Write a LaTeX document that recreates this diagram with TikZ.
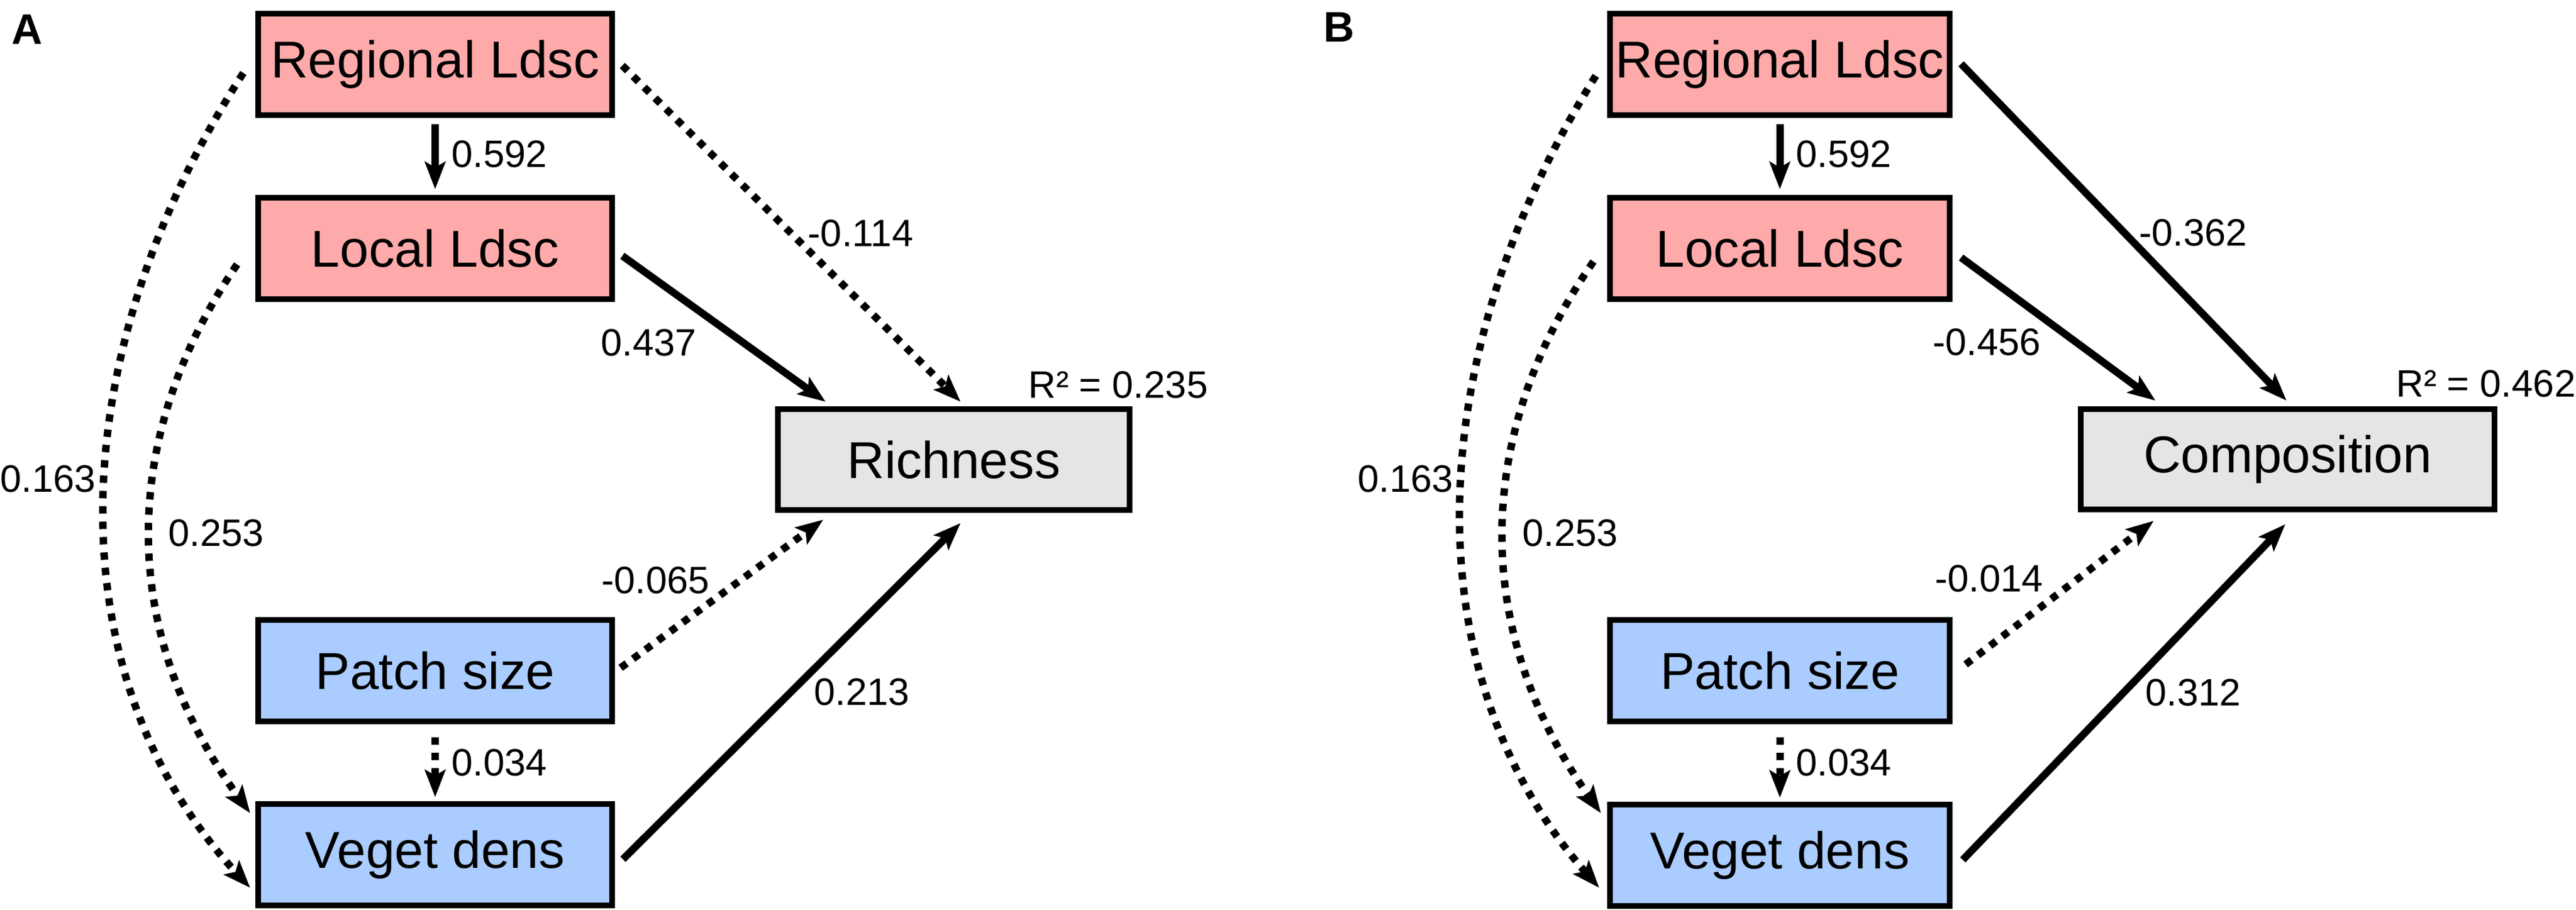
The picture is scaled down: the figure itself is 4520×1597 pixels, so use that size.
\documentclass[tikz,border=0pt]{standalone}
\usepackage{fontspec}
\setmainfont{Liberation Sans}
\usetikzlibrary{arrows.meta,calc,positioning}
\definecolor{ldscred}{HTML}{FFAAAA}
\definecolor{vegblue}{HTML}{AACCFF}
\definecolor{respgray}{HTML}{E5E5E5}

\begin{document}
\begin{tikzpicture}[x=0.2pt,y=-0.2pt,
    box/.style={draw=black,line width=2pt,inner sep=0pt,minimum height=35.6pt,
      font=\fontsize{18.2}{20}\selectfont},
    wbox/.style={box,minimum width=124.2pt},
    nbox/.style={box,minimum width=119.2pt},
    lbl/.style={inner sep=0pt,font=\fontsize{13.4}{15}\selectfont},
    panel/.style={inner sep=0pt,font=\fontsize{15}{17}\selectfont\bfseries},
    eff/.style={line width=2.6pt,-{Stealth[length=9.6pt,width=7.2pt,inset=2pt]}},
    ns/.style={eff,dash pattern=on 2.6pt off 2.8pt}]
    \useasboundingbox (0,0) rectangle (4520,1597);

    % panel A : richness
    \node[panel] (pA) at (48,52) {A};
    \node[wbox,fill=ldscred] (regA) at (763.5,113) {Regional Ldsc};
    \node[wbox,fill=ldscred] (locA) at (763.5,436) {Local Ldsc};
    \node[wbox,fill=vegblue] (patA) at (763.5,1177) {Patch size};
    \node[wbox,fill=vegblue] (vegA) at (763.5,1500) {Veget dens};
    \node[box,fill=respgray,minimum width=123.4pt,minimum height=35.4pt] (rich) at (1673.5,806.5) {Richness};

    \draw[eff] ($(regA.south)+(0,11)$) -- ($(locA.north)+(0,-10)$);
    \draw[ns] ($(patA.south)+(0,23)$) -- ($(vegA.north)+(0,-7)$);
    \draw[ns] ($(regA.east)+(13,2)$) -- ($(rich.north)+(12,-8)$);
    \draw[eff] ($(locA.east)+(13,13)$) -- ($(rich.north)+(-225,-8)$);
    \draw[ns] ($(patA.east)+(10,-5)$) -- ($(rich.south)+(-229,12)$);
    \draw[eff] ($(vegA.east)+(14,8)$) -- ($(rich.south)+(12,18)$);
    \draw[ns] ($(regA.west)+(-21,15)$) .. controls +(-327,507) and +(-339,-366) .. ($(vegA.west)+(-9,58)$);
    \draw[ns] ($(locA.west)+(-32,28)$) .. controls +(-208,305) and +(-231,-317) .. ($(vegA.west)+(-9,-73)$);

    \node[lbl] (a1) at (876,270) {0.592};
    \node[lbl] (a2) at (1510,409) {-0.114};
    \node[lbl] (a3) at (1138,601) {0.437};
    \node[lbl] (a4) at (1962,675) {R² = 0.235};
    \node[lbl] (a5) at (84,840) {0.163};
    \node[lbl] (a6) at (379,935) {0.253};
    \node[lbl] (a7) at (1150,1018) {-0.065};
    \node[lbl] (a8) at (1512,1214) {0.213};
    \node[lbl] (a9) at (876,1338) {0.034};

    % panel B : composition
    \node[panel] (pB) at (2350,48) {B};
    \node[nbox,fill=ldscred] (regB) at (3123,113) {Regional Ldsc};
    \node[nbox,fill=ldscred] (locB) at (3123,436) {Local Ldsc};
    \node[nbox,fill=vegblue] (patB) at (3123,1177) {Patch size};
    \node[nbox,fill=vegblue] (vegB) at (3123,1501) {Veget dens};
    \node[box,fill=respgray,minimum width=145.2pt,minimum height=35.2pt] (comp) at (4014,806) {Composition};

    \draw[eff] ($(regB.south)+(0,11)$) -- ($(locB.north)+(0,-10)$);
    \draw[ns] ($(patB.south)+(0,23)$) -- ($(vegB.north)+(0,-7)$);
    \draw[eff] ($(regB.east)+(15,-1)$) -- ($(comp.north)+(-2,-10)$);
    \draw[eff] ($(locB.east)+(15,16)$) -- ($(comp.north)+(-232,-10)$);
    \draw[ns] ($(patB.east)+(23,-11)$) -- ($(comp.south)+(-235,15)$);
    \draw[eff] ($(vegB.east)+(18,8)$) -- ($(comp.south)+(-4,21)$);
    \draw[ns] ($(regB.west)+(-20,20)$) .. controls +(-316,507) and +(-322,-366) .. ($(vegB.west)+(-14,57)$);
    \draw[ns] ($(locB.west)+(-24,23)$) .. controls +(-213,305) and +(-226,-317) .. ($(vegB.west)+(-11,-74)$);

    \node[lbl] (b1) at (3235,270) {0.592};
    \node[lbl] (b2) at (3848,408) {-0.362};
    \node[lbl] (b3) at (3486,600) {-0.456};
    \node[lbl] (b4) at (4362,673) {R² = 0.462};
    \node[lbl] (b5) at (2466,840) {0.163};
    \node[lbl] (b6) at (2755,935) {0.253};
    \node[lbl] (b7) at (3490,1015) {-0.014};
    \node[lbl] (b8) at (3848,1215) {0.312};
    \node[lbl] (b9) at (3235,1338) {0.034};
\end{tikzpicture}
\end{document}
